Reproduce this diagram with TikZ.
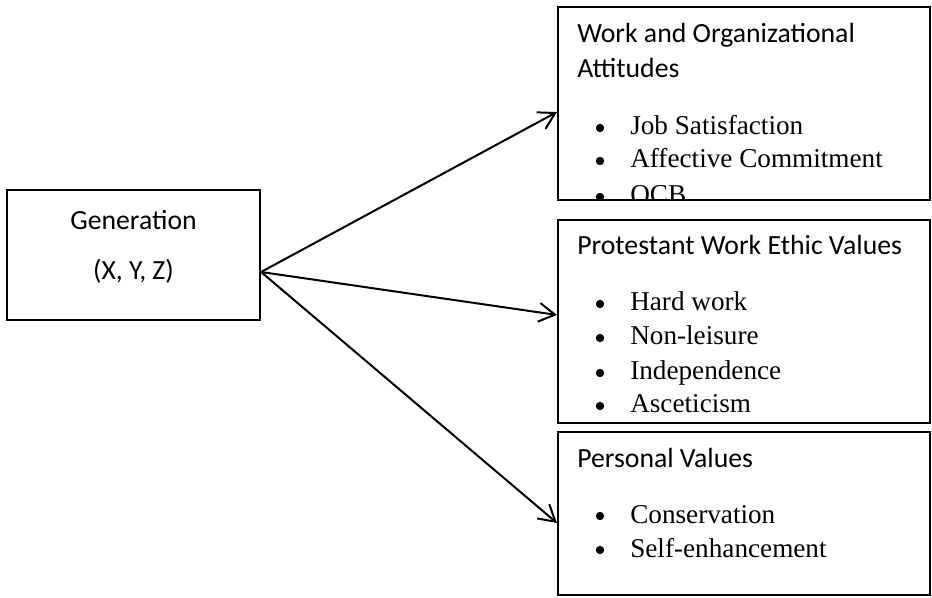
\documentclass[tikz,border=0pt]{standalone}
\usepackage{fontspec}
\setmainfont{Carlito}
\newfontfamily\itemfont{Liberation Serif}
\usetikzlibrary{arrows.meta}

\begin{document}
\begin{tikzpicture}[x=0.75pt, y=-0.75pt,
	box/.style={draw, line width=1.6pt, inner sep=0pt},
	head/.style={anchor=base west, inner sep=0pt, font=\fontsize{20.8}{24}\selectfont},
	dot/.style={circle, fill, inner sep=0pt, minimum size=6.3pt},
	item/.style={anchor=base west, inner sep=0pt, font=\itemfont\fontsize{20.4}{24}\selectfont},
	arr/.style={line width=1.5pt, -{Straight Barb[length=12pt,width=14pt]}}]

		\useasboundingbox (0,0) rectangle (932,598);

		% nodes - boxes %
		\node[box, minimum width=189.75pt, minimum height=97.5pt] (gen) at (133.5,255) {};
		\node[box, minimum width=279pt, minimum height=144.75pt] (wk) at (744,103.5) {};
		\node[box, minimum width=279pt, minimum height=152.25pt] (pwe) at (744,321.5) {};
		\node[box, minimum width=279pt, minimum height=122.25pt] (pv) at (744,513.5) {};

		% nodes - left box text %
		\node[head, anchor=base] (genname) at (133.5,230) {Generation};
		\node[head, anchor=base] (genset) at (133.5,280) {(X, Y, Z)};

		% nodes - work attitudes %
		\node[head] (wkheadA) at (577,43) {Work and Organizational};
		\node[head] (wkheadB) at (577,78) {Attitudes};
		\begin{scope}
			\clip ([yshift=0.8pt]wk.south west) rectangle (wk.north east);
			\foreach \y/\txt [count=\i] in {135/Job Satisfaction, 168/Affective Commitment, 204/OCB} {
				\node[dot] (wkdot\i) at (600,\y-7) {};
				\node[item] (wkitem\i) at (630,\y) {\txt};
			}
		\end{scope}

		% nodes - work ethic %
		\node[head] (pwehead) at (577,255) {Protestant Work Ethic Values};
		\foreach \y/\txt [count=\i] in {311/Hard work, 345/Non-leisure, 380/Independence, 413/Asceticism} {
			\node[dot] (pwedot\i) at (600,\y-7) {};
			\node[item] (pweitem\i) at (630,\y) {\txt};
		}

		% nodes - personal values %
		\node[head] (pvhead) at (577,468) {Personal Values};
		\foreach \y/\txt [count=\i] in {523/Conservation, 557/Self-enhancement} {
			\node[dot] (pvdot\i) at (600,\y-7) {};
			\node[item] (pvitem\i) at (630,\y) {\txt};
		}

		% edges %
		\coordinate (fork) at ([yshift=-12.75pt]gen.east);
		\draw[arr] (fork) -- ([yshift=-6.4pt]wk.west);
		\draw[arr] (fork) -- ([yshift=4.9pt]pwe.west);
		\draw[arr] (fork) -- ([yshift=-7.1pt]pv.west);

\end{tikzpicture}
\end{document}
